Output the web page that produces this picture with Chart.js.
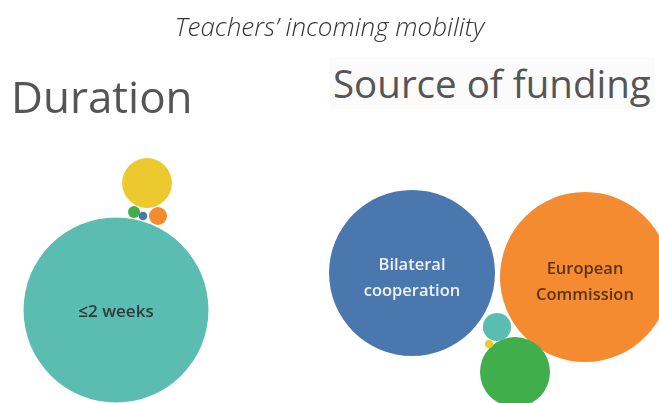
<!DOCTYPE html>
<html>
<head>
<meta charset="utf-8">
<script src="https://cdn.jsdelivr.net/npm/chart.js@4"></script>
<style>
body { margin: 0; background: #fff; }
#wrap { position: relative; width: 659px; height: 403px; overflow: hidden; }
.t { position: absolute; white-space: nowrap; font-family: "Open Sans", "Noto Sans", sans-serif; }
#title { left: 0; width: 659px; top: 8px; text-align: center; font-size: 26px; font-style: italic; font-weight: 300; color: #333; }
#dur { left: 11px; top: 66px; font-size: 44px; color: #555; font-weight: 400; }
#src { left: 330px; top: 57px; font-size: 38.5px; color: #555; font-weight: 400; background: #fbfbfb; padding: 0 3px; }
</style>
</head>
<body>
<div id="wrap">
<canvas id="bubbles"></canvas>
<div class="t" id="title">Teachers’ incoming mobility</div>
<div class="t" id="dur">Duration</div>
<div class="t" id="src">Source of funding</div>
</div>
<script>
// Duration panel
var dur_labels = ["≤2 weeks", "", "", "", ""];
var dur_values = [950, 69, 9, 4, 2];
var dur_x = [116, 147, 158, 134, 143];
var dur_y = [310, 183, 216, 212, 216];
var dur_colors = ["#5bbdb1", "#ebc92f", "#f48b31", "#3fae4b", "#4a78ae"];

// Source of funding panel
var src_labels = ["Bilateral\ncooperation", "European\nCommission", "", "", ""];
var src_values = [765, 803, 136, 22, 2];
var src_x = [412, 585, 515, 497, 489];
var src_y = [273, 277, 372, 327, 344];
var src_colors = ["#4a78ae", "#f48b31", "#3fae4b", "#5bbdb1", "#ebc92f"];
var src_text = ["#eef2f8", "#5a3412", "", "", ""];

var K = 3; // radius = K * sqrt(value)

function points(xs, ys, vals) {
    var out = [];
    for (var i = 0; i < vals.length; i++) {
        out.push({x: xs[i], y: ys[i], r: K * Math.sqrt(vals[i])});
    }
    return out;
}

var bubbleLabels = {
    id: 'bubbleLabels',
    afterDatasetsDraw: function(chart) {
        var ctx = chart.ctx;
        chart.data.datasets.forEach(function(ds, di) {
            var meta = chart.getDatasetMeta(di);
            meta.data.forEach(function(el, i) {
                var txt = ds.labels[i];
                if (!txt) return;
                var lines = txt.split("\n");
                ctx.save();
                ctx.fillStyle = ds.textColors[i];
                ctx.font = ds.textFont;
                ctx.textAlign = 'center';
                ctx.textBaseline = 'middle';
                var lh = 26;
                var y0 = el.y - (lines.length - 1) * lh / 2 + ds.textShift;
                lines.forEach(function(l, k) {
                    ctx.fillText(l, el.x, y0 + k * lh);
                });
                ctx.restore();
            });
        });
    }
};

var chart = new Chart(document.getElementById("bubbles"), {
    type: 'bubble',
    data: {
        datasets: [{
            label: "Duration",
            data: points(dur_x, dur_y, dur_values),
            backgroundColor: dur_colors,
            borderWidth: 0,
            clip: false,
            labels: dur_labels,
            textColors: ["#2f3a3a", "", "", "", ""],
            textFont: "600 17px 'Open Sans', sans-serif",
            textShift: 2
        }, {
            label: "Source of funding",
            data: points(src_x, src_y, src_values),
            backgroundColor: src_colors,
            borderWidth: 0,
            clip: false,
            labels: src_labels,
            textColors: src_text,
            textFont: "600 16.5px 'Open Sans', sans-serif",
            textShift: 5
        }]
    },
    options: {
        responsive: true,
        maintainAspectRatio: false,
        animation: false,
        events: [],
        layout: {padding: 0, autoPadding: false},
        plugins: {legend: {display: false}, tooltip: {enabled: false}},
        scales: {
            x: {display: false, min: 0, max: 659},
            y: {display: false, min: 0, max: 403, reverse: true}
        }
    },
    plugins: [bubbleLabels]
});
</script>
</body>
</html>
